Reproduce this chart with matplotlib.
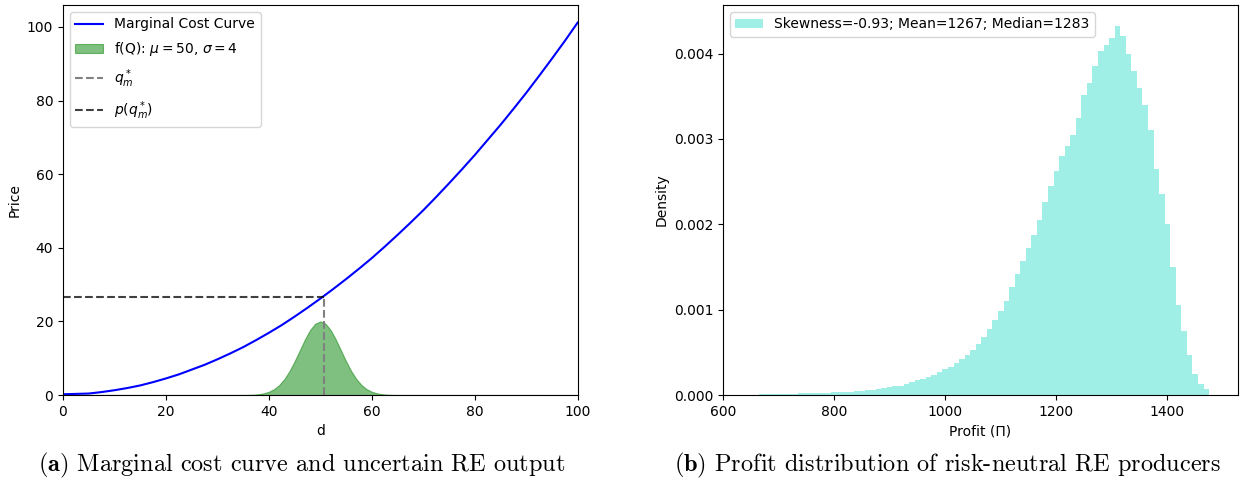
import numpy as np
import matplotlib
matplotlib.use("Agg")
import matplotlib.pyplot as plt

plt.rcParams['mathtext.fontset'] = 'dejavusans'

# marginal cost curve
d_vals = [0, 2.5, 5, 7.5, 10, 12.5, 15, 17.5, 20, 22.5, 25, 27.5, 30, 32.5, 35, 37.5, 40,
          42.5, 45, 47.5, 50, 52.5, 55, 57.5, 60, 62.5, 65, 67.5, 70, 72.5, 75, 77.5, 80,
          82.5, 85, 87.5, 90, 92.5, 95, 97.5, 100]
price_vals = [0.2, 0.3, 0.4, 0.8, 1.3, 1.9, 2.6, 3.5, 4.5, 5.6, 6.9, 8.2, 9.7, 11.3, 13.0,
              14.9, 16.9, 19.0, 21.3, 23.7, 26.2, 28.8, 31.5, 34.3, 37.2, 40.3, 43.5, 46.8,
              50.2, 53.8, 57.5, 61.3, 65.2, 69.3, 73.4, 77.7, 82.1, 86.7, 91.4, 96.2, 101.2]

# uncertain RE output f(Q), scaled to the price axis
q_vals = [0, 34, 35, 36, 37, 38, 39, 40, 41, 42, 43, 44, 45, 46, 47, 48, 49, 50,
          51, 52, 53, 54, 55, 56, 57, 58, 59, 60, 61, 62, 63, 64, 65, 66, 100]
fq_vals = [0, 0.01, 0.02, 0.04, 0.10, 0.22, 0.46, 0.88, 1.59, 2.71, 4.33, 6.49, 9.16,
           12.13, 15.10, 17.65, 19.38, 20.0, 19.38, 17.65, 15.10, 12.13, 9.16, 6.49,
           4.33, 2.71, 1.59, 0.88, 0.46, 0.22, 0.10, 0.04, 0.02, 0.01, 0]

q_star = 50.8
p_star = 26.7

# profit histogram (bin edges and densities)
profit_edges = list(range(665, 1485, 10))
profit_density = [
    0.00001, 0.00001, 0.00001, 0.000012, 0.000014, 0.000015, 0.000016, 0.000018,
    0.00002, 0.000022, 0.000024, 0.000026, 0.000028, 0.00003, 0.000033, 0.000036,
    0.00004, 0.000045, 0.00005, 0.000057, 0.000064, 0.000072, 0.00008, 0.00009,
    0.0001, 0.00011, 0.00013, 0.00015, 0.00017, 0.00019, 0.00021, 0.00024,
    0.00027, 0.0003, 0.00033, 0.00037, 0.00042, 0.00047, 0.00053, 0.0006,
    0.00068, 0.00077, 0.00088, 0.00099, 0.0011, 0.00126, 0.00142, 0.00157,
    0.00172, 0.00188, 0.00205, 0.00226, 0.00245, 0.00262, 0.0028, 0.00292,
    0.00305, 0.00325, 0.00352, 0.00365, 0.00385, 0.00403, 0.0041, 0.00418,
    0.00432, 0.0042, 0.004, 0.0038, 0.0036, 0.0034, 0.0031, 0.00265,
    0.00235, 0.002, 0.0015, 0.00105, 0.00075, 0.00047, 0.00025, 0.00013, 0.00007,
]

fig = plt.figure(figsize=(12.45, 4.91), dpi=100)
ax1 = fig.add_axes([0.0506, 0.1955, 0.4134, 0.7945])
ax2 = fig.add_axes([0.5807, 0.1955, 0.4137, 0.7945])

# left panel
ax1.plot(d_vals, price_vals, color='blue', lw=1.5, label='Marginal Cost Curve')
ax1.fill_between(q_vals, fq_vals, color='green', alpha=0.5, lw=0.8,
                 label=r'f(Q): $\mu=50$, $\sigma=4$')
ax1.plot([q_star, q_star], [0, p_star], color='gray', ls='--', lw=1.5, label=r'$q_m^*$')
ax1.plot([0, q_star], [p_star, p_star], color='k', alpha=0.75, ls='--', lw=1.5,
         label=r'$p(q_m^*)$')
ax1.set_xlim(0, 100)
ax1.set_ylim(0, 106)
ax1.set_xlabel('d')
ax1.set_ylabel('Price')
ax1.legend(loc='upper left', fontsize=10, handlelength=2.0, labelspacing=0.65)

# right panel
ax2.hist(profit_edges[:-1], bins=profit_edges, weights=profit_density,
         color='turquoise', alpha=0.5,
         label='Skewness=-0.93; Mean=1267; Median=1283')
ax2.set_xlim(600, 1527)
ax2.set_ylim(0, 0.00457)
ax2.set_yticks([0, 0.001, 0.002, 0.003, 0.004])
ax2.set_yticklabels(['0.000', '0.001', '0.002', '0.003', '0.004'])
ax2.set_xlabel('Profit (Π)')
ax2.set_ylabel('Density')
ax2.legend(loc='upper left', fontsize=10)

for ax in (ax1, ax2):
    ax.tick_params(labelsize=10)

# captions under each panel
cap_font = dict(family='cmr10', size=17.5, ha='center', va='center')
plt.rcParams['mathtext.fontset'] = 'cm'
fig.text(0.242, 0.052, r'$\mathbf{(a)}$ Marginal cost curve and uncertain RE output', **cap_font)
fig.text(0.761, 0.052, r'$\mathbf{(b)}$ Profit distribution of risk-neutral RE producers', **cap_font)

fig.savefig('out.png', dpi=100)
